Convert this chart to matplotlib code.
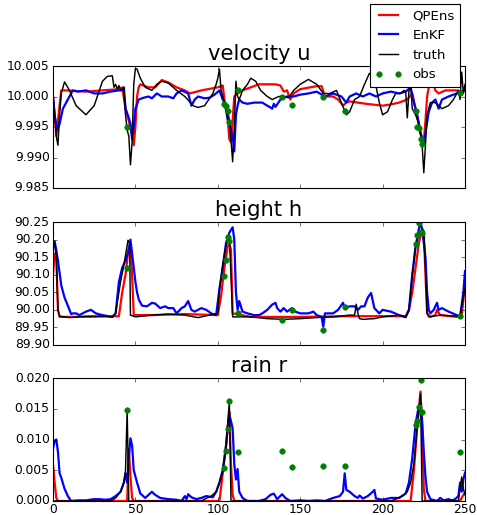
import matplotlib
matplotlib.use("Agg")
import matplotlib.pyplot as plt
import numpy as np

plt.style.use("classic")
plt.rcParams["font.family"] = ["DejaVu Sans"]
plt.rcParams["figure.facecolor"] = "white"
plt.rcParams["savefig.facecolor"] = "white"

# ---------------- data ----------------
titles = ["velocity u", "height h", "rain r"]
labels = ["QPEns", "EnKF", "truth", "obs"]
x_ticks = [0, 50, 100, 150, 200, 250]

obs_x = [45, 104, 105, 106, 107, 112, 139, 145, 164, 177, 220, 221, 222, 223, 224, 247]
obs_u = [9.995, 9.9988, 9.9984, 9.9976, 9.9959, 10.0011, 10.0, 9.9986, 10.0, 9.9976,
         9.9976, 9.995, 9.9948, 9.993, 9.9922, 10.0006]
obs_h = [90.118, 90.097, 90.143, 90.208, 90.195, 89.991, 89.970, 89.999, 89.942, 90.008,
         90.186, 90.212, 90.246, 90.222, 90.218, 89.982]
obs_r = [0.0148, 0.0054, 0.0081, 0.0117, 0.0163, 0.0080, 0.0082, 0.0055, 0.0057, 0.0057,
         0.0124, 0.0130, 0.0153, 0.0197, 0.0144, 0.0080]

# velocity u
u_truth_x = [0, 1, 2, 3, 4, 5, 7, 10, 14, 20, 25, 30, 33, 36, 37, 38, 39, 40, 41, 42, 43, 44,
             45, 46, 47, 48, 49, 50, 51, 53, 56, 60, 63, 66, 70, 75, 80, 85, 88, 92, 97, 99,
             100, 101, 102, 104, 106, 107, 108, 109, 110, 111, 112, 113, 115, 118, 120, 123,
             126, 130, 133, 137, 140, 143, 146, 150, 155, 160, 164, 168, 172, 175, 178, 180,
             183, 186, 189, 192, 195, 198, 200, 203, 206, 208, 211, 213, 214, 215, 216, 217,
             218, 220, 222, 224, 225, 226, 227, 229, 232, 236, 240, 243, 246, 247, 248, 249, 250]
u_truth = [10.0, 9.997, 9.9935, 9.992, 9.997, 10.0005, 10.0024, 10.001, 9.9985, 9.997,
           9.9985, 10.0025, 10.0033, 10.0034, 10.0015, 10.002, 10.0012, 10.0018, 10.001,
           10.0012, 10.0015, 9.997, 9.9945, 9.9935, 9.9888, 9.9925, 10.002, 10.0046, 10.0045,
           10.003, 10.0015, 10.001, 10.002, 10.0025, 10.0022, 10.001, 10.0, 9.9985, 9.9982,
           9.9985, 10.0005, 10.002, 10.003, 10.0045, 10.001, 9.999, 9.996, 9.9955, 9.993,
           9.9893, 9.995, 10.0025, 10.0, 9.9995, 10.001, 10.002, 10.003, 10.0025, 10.001,
           10.0, 9.9995, 10.0, 10.0, 9.9998, 10.001, 10.002, 10.0028, 10.002, 10.0005,
           10.0005, 10.001, 9.999, 9.997, 9.9975, 9.9995, 10.0, 10.002, 10.0038, 10.003,
           9.999, 9.997, 9.9975, 9.9995, 10.0005, 10.0005, 10.001, 10.0008, 9.9965, 10.001,
           10.0025, 9.998, 9.997, 9.9955, 9.992, 9.9875, 9.992, 9.997, 9.999, 9.999, 9.998,
           9.9985, 9.9995, 10.001, 9.9995, 10.004, 10.0005, 10.002]
u_qpens_x = [0, 1, 2, 3, 5, 8, 20, 30, 40, 42, 44, 46, 48, 49, 50, 51, 52, 53, 58, 62, 66, 70,
             75, 80, 83, 90, 100, 103, 104, 106, 107, 108, 109, 110, 112, 115, 120, 125, 135,
             138, 140, 142, 144, 146, 150, 160, 163, 165, 170, 173, 176, 178, 180, 190, 200,
             205, 210, 215, 218, 220, 222, 224, 225, 226, 227, 228, 231, 232, 234, 238, 245,
             248, 250]
u_qpens = [10.0, 9.997, 9.9935, 9.996, 10.001, 10.001, 10.0008, 10.001, 10.0012, 10.0015,
           9.998, 9.996, 9.9935, 9.992, 9.995, 10.0, 10.0015, 10.002, 10.0015, 10.0015,
           10.0027, 10.0023, 10.0015, 10.001, 10.0005, 10.001, 10.0015, 10.0018, 9.9995,
           9.9965, 9.993, 9.9925, 9.996, 10.0, 10.0005, 10.001, 10.0015, 10.002, 10.002,
           10.0018, 10.0008, 10.001, 9.9995, 10.0005, 10.0012, 10.0017, 10.0017, 10.0, 10.0,
           9.9995, 9.9985, 9.999, 9.9992, 9.9988, 9.9985, 9.9987, 9.999, 9.9995, 10.0005,
           9.998, 9.9955, 9.993, 9.9925, 9.996, 10.0, 10.0015, 10.002, 10.001, 10.0005,
           10.001, 10.001, 10.0008, 10.001]
u_enkf_x = [0, 1, 2.5, 4, 6, 9, 12, 15, 20, 25, 30, 35, 40, 42, 43, 44, 46, 47, 48, 49, 50,
            52, 55, 58, 60, 63, 66, 70, 73, 75, 78, 82, 84, 86, 88, 92, 95, 98, 101, 103, 105,
            107, 108, 109, 110, 111, 112, 113, 115, 118, 122, 127, 130, 132, 133, 134, 135,
            138, 142, 146, 150, 155, 160, 165, 170, 175, 178, 180, 184, 188, 192, 196, 200,
            205, 210, 214, 217, 219, 221, 223, 224, 225, 226, 228, 230, 232, 234, 236, 240,
            245, 248, 250]
u_enkf = [10.0, 9.997, 9.9945, 9.9955, 9.998, 9.9995, 10.001, 10.0008, 10.001, 10.0005,
          10.0005, 10.0008, 10.001, 10.001, 10.0015, 9.998, 9.9965, 9.9955, 9.993, 9.995,
          9.998, 9.9995, 9.9998, 10.0, 9.9997, 10.0005, 10.0, 10.0, 9.9997, 10.0005, 10.001,
          10.0005, 9.9985, 9.9995, 10.0, 9.9997, 9.9998, 10.0003, 10.001, 9.9995, 9.9985,
          9.996, 9.9945, 9.9935, 9.991, 9.997, 9.9985, 9.9995, 9.999, 9.9988, 9.999, 9.999,
          9.9985, 9.9982, 9.998, 9.9988, 9.9983, 9.9995, 10.0, 10.0, 10.0003, 10.0005,
          10.0008, 10.0, 10.0005, 10.0, 9.999, 10.0, 10.0005, 10.0, 10.0005, 10.0, 10.0005,
          10.0008, 10.0005, 10.0008, 10.0015, 9.999, 9.997, 9.994, 9.993, 9.9925, 9.994,
          9.9975, 9.999, 9.9995, 9.998, 9.9995, 10.0, 10.0005, 10.0008, 10.001]

# height h
h_truth_x = [0, 1, 2, 3, 4, 10, 20, 30, 36, 38, 40, 41, 42.7, 44, 45.5, 46.5, 47, 50, 60, 70,
             80, 88, 95, 100, 101, 103, 105, 106, 107, 108, 109, 110, 120, 130, 140, 150, 160,
             170, 180, 183, 184, 185, 186, 188, 195, 200, 210, 214, 216, 218, 220, 222, 224,
             225, 226, 227, 228, 235, 245, 247, 250]
h_truth = [90.18, 90.19, 90.15, 90.0, 89.982, 89.978, 89.982, 89.982, 89.98, 89.99, 90.05,
           90.08, 90.12, 90.155, 90.198, 90.19, 89.985, 89.98, 89.985, 89.988, 89.985, 89.978,
           89.985, 89.99, 90.057, 90.13, 90.185, 90.195, 90.2, 90.1, 89.98, 89.98, 89.98,
           89.975, 89.973, 89.975, 89.978, 89.98, 89.985, 89.985, 90.016, 89.99, 89.975,
           89.973, 89.975, 89.98, 89.985, 89.978, 90.0, 90.1, 90.177, 90.215, 90.23, 90.225,
           90.12, 89.99, 89.98, 89.985, 89.982, 89.985, 90.06]
h_qpens_x = [0, 1, 2, 3, 4, 20, 40, 42, 44, 46, 47, 48, 49, 60, 80, 100, 102, 104, 106, 107,
             108, 109, 120, 150, 180, 200, 214, 216, 218, 220, 222, 224, 225, 226, 227, 229,
             232, 233, 235, 245, 248, 250]
h_qpens = [90.1, 90.16, 90.15, 90.0, 89.98, 89.98, 89.982, 90.05, 90.1, 90.18, 90.19, 90.1,
           89.985, 89.985, 89.988, 89.985, 90.04, 90.12, 90.18, 90.19, 90.17, 89.99, 89.98,
           89.98, 89.982, 89.982, 89.982, 90.0, 90.05, 90.12, 90.19, 90.23, 90.22, 90.1,
           89.99, 89.98, 89.985, 90.0, 89.985, 89.98, 89.985, 90.07]
h_enkf_x = [0, 1, 2, 3, 5, 7, 9, 11, 12, 14, 16, 20, 23, 26, 30, 36, 38, 40, 42, 44, 46, 47,
            48, 49, 50, 51, 52, 54, 57, 60, 62, 65, 68, 70, 73, 75, 78, 80, 82, 84, 86, 90, 93,
            96, 99, 101, 103, 105, 107, 109, 110, 111, 112, 113, 115, 118, 122, 125, 127, 130,
            133, 135, 136, 138, 140, 142, 145, 147, 150, 155, 158, 160, 163, 164, 165, 170,
            173, 176, 177, 180, 183, 185, 187, 189, 191, 193, 195, 198, 200, 205, 210, 214,
            216, 218, 220, 222, 223, 224, 226, 227, 228, 229, 231, 233, 234, 236, 240, 245,
            247, 249, 250]
h_enkf = [90.17, 90.195, 90.17, 90.14, 90.07, 90.035, 90.012, 89.988, 89.99, 89.99, 89.985,
          89.995, 90.0, 89.99, 89.985, 89.98, 89.99, 90.08, 90.12, 90.14, 90.17, 90.2, 90.16,
          90.12, 90.08, 90.05, 90.03, 90.012, 90.01, 90.02, 90.018, 90.005, 90.01, 90.005,
          90.005, 89.99, 90.005, 90.01, 90.025, 90.0, 89.995, 90.005, 90.0, 89.99, 89.985,
          90.06, 90.12, 90.19, 90.22, 90.235, 90.2, 90.05, 90.0, 90.025, 89.995, 89.99,
          89.985, 89.985, 89.99, 90.0, 90.015, 90.02, 90.005, 89.995, 90.005, 89.995, 90.005,
          89.995, 89.99, 89.99, 89.995, 89.985, 89.98, 89.952, 89.99, 89.99, 90.0, 90.02,
          90.005, 90.01, 90.01, 90.0, 90.01, 90.01, 90.035, 90.048, 90.005, 89.99, 90.0,
          89.995, 89.985, 89.98, 90.0, 90.1, 90.18, 90.23, 90.248, 90.23, 90.15, 90.05, 90.0,
          89.99, 90.0, 90.02, 90.0, 90.005, 89.995, 89.985, 89.98, 90.05, 90.11]

# rain r
r_truth_x = [0, 35, 38, 41, 43, 44, 45, 46, 90, 92, 96, 99, 101, 103, 105, 106, 107, 108,
             205, 208, 212, 215, 217, 219, 220, 221, 222, 223, 224, 246, 247, 248, 249, 250]
r_truth = [0.0, 0.0, 0.0005, 0.0015, 0.003, 0.005, 0.0148, 0.0, 0.0, 0.0003, 0.0008, 0.0015,
           0.003, 0.005, 0.0085, 0.0125, 0.0162, 0.0, 0.0, 0.0003, 0.0008, 0.0015, 0.003,
           0.006, 0.009, 0.012, 0.0145, 0.0175, 0.0, 0.0, 0.002, 0.0039, 0.002, 0.001]
r_qpens_x = [0, 1, 2, 3, 45, 46, 47, 48, 49, 101, 103, 105, 106, 107, 108, 109, 110, 217,
             219, 221, 222, 223, 224, 225, 226, 247, 248, 249, 250]
r_qpens = [0.006, 0.003, 0.0005, 0.0, 0.0, 0.0085, 0.004, 0.0005, 0.0, 0.0, 0.0045, 0.009,
           0.012, 0.0145, 0.006, 0.001, 0.0, 0.0, 0.005, 0.012, 0.015, 0.0178, 0.012, 0.002,
           0.0, 0.0, 0.0005, 0.001, 0.0013]
r_enkf_x = [0, 1, 2, 3, 4, 5, 7, 9, 11, 15, 20, 25, 28, 32, 35, 38, 41, 43, 44, 45, 46, 47,
            48, 49, 51, 53, 56, 58, 60, 62, 65, 70, 75, 78, 80, 81, 82, 84, 87, 90, 93, 95,
            97, 99, 101, 103, 105, 106, 107, 108, 109, 110, 111, 112, 113, 115, 118, 125,
            129, 132, 134, 136, 139, 141, 144, 150, 155, 160, 165, 170, 174, 176, 177, 178,
            180, 183, 185, 186, 188, 191, 194, 195, 196, 200, 205, 210, 214, 216, 218, 220,
            221, 222, 223, 224, 225, 226, 227, 229, 233, 235, 237, 240, 242, 244, 246, 247,
            248, 249, 250]
r_enkf = [0.0085, 0.0098, 0.01, 0.008, 0.0045, 0.0038, 0.002, 0.0008, 0.0, 0.0001, 0.0001,
          0.0003, 0.0003, 0.0002, 0.0003, 0.0008, 0.0015, 0.003, 0.0045, 0.003, 0.007, 0.0102,
          0.009, 0.005, 0.003, 0.0012, 0.0005, 0.001, 0.0015, 0.001, 0.0005, 0.0003, 0.0002,
          0.0, 0.0008, 0.0003, 0.0011, 0.0006, 0.0003, 0.0005, 0.0008, 0.0007, 0.0006, 0.0015,
          0.003, 0.005, 0.009, 0.012, 0.014, 0.013, 0.0118, 0.006, 0.0035, 0.0052, 0.0015,
          0.0005, 0.0, 0.0, 0.0003, 0.001, 0.0012, 0.0003, 0.0011, 0.0005, 0.0, 0.0001, 0.0,
          0.0001, 0.0, 0.0005, 0.0008, 0.0015, 0.0045, 0.0018, 0.0015, 0.0008, 0.0005, 0.0009,
          0.0004, 0.0008, 0.0015, 0.0018, 0.0004, 0.0002, 0.0005, 0.0005, 0.0012, 0.003,
          0.007, 0.0125, 0.014, 0.0155, 0.016, 0.013, 0.008, 0.004, 0.0015, 0.0003, 0.0,
          0.0005, 0.0001, 0.0003, 0.0001, 0.0003, 0.0008, 0.003, 0.0015, 0.0035, 0.0046]

panels = [
    (u_qpens_x, u_qpens, u_enkf_x, u_enkf, u_truth_x, u_truth, obs_u, (9.985, 10.005)),
    (h_qpens_x, h_qpens, h_enkf_x, h_enkf, h_truth_x, h_truth, obs_h, (89.90, 90.25)),
    (r_qpens_x, r_qpens, r_enkf_x, r_enkf, r_truth_x, r_truth, obs_r, (0.0, 0.020)),
]

# ---------------- plot ----------------
W, H, DPI = 477, 515, 80
fig = plt.figure(figsize=(W / DPI, H / DPI), dpi=DPI)
fig.patch.set_facecolor("white")

boxes = [(66, 188), (222, 345), (378, 501)]
left, right = 53, 465
axes = []
for i, (qx, qy, ex, ey, tx, ty, oy, ylim) in enumerate(panels):
    top, bot = boxes[i]
    ax = fig.add_axes([left / W, 1 - bot / H, (right - left) / W, (bot - top) / H])
    axes.append(ax)
    ax.plot(qx, qy, color="red", lw=2, label=labels[0])
    ax.plot(ex, ey, color="blue", lw=2, label=labels[1])
    ax.plot(tx, ty, color="black", lw=1.3, label=labels[2])
    ax.plot(obs_x, oy, "o", color=(0, 0.5, 0), mec=(0, 0.5, 0), ms=5, label=labels[3])
    ax.set_xlim(0, 250)
    ax.set_ylim(*ylim)
    ax.set_xticks(x_ticks)
    ax.ticklabel_format(axis="y", useOffset=False)
    ax.set_title(titles[i], fontsize=19)
    ax.tick_params(labelsize=11)
    ax.tick_params(axis="x", pad=2)
    ax.tick_params(axis="y", pad=3)
    if i < 2:
        ax.set_xticklabels([])

h, l = axes[0].get_legend_handles_labels()
fig.legend(h, l, loc="upper right", bbox_to_anchor=(460 / W, 1 - 4 / H),
           bbox_transform=fig.transFigure, borderaxespad=0, fontsize=12, numpoints=2,
           fancybox=False)

fig.savefig("out.png", dpi=DPI, facecolor="white")
